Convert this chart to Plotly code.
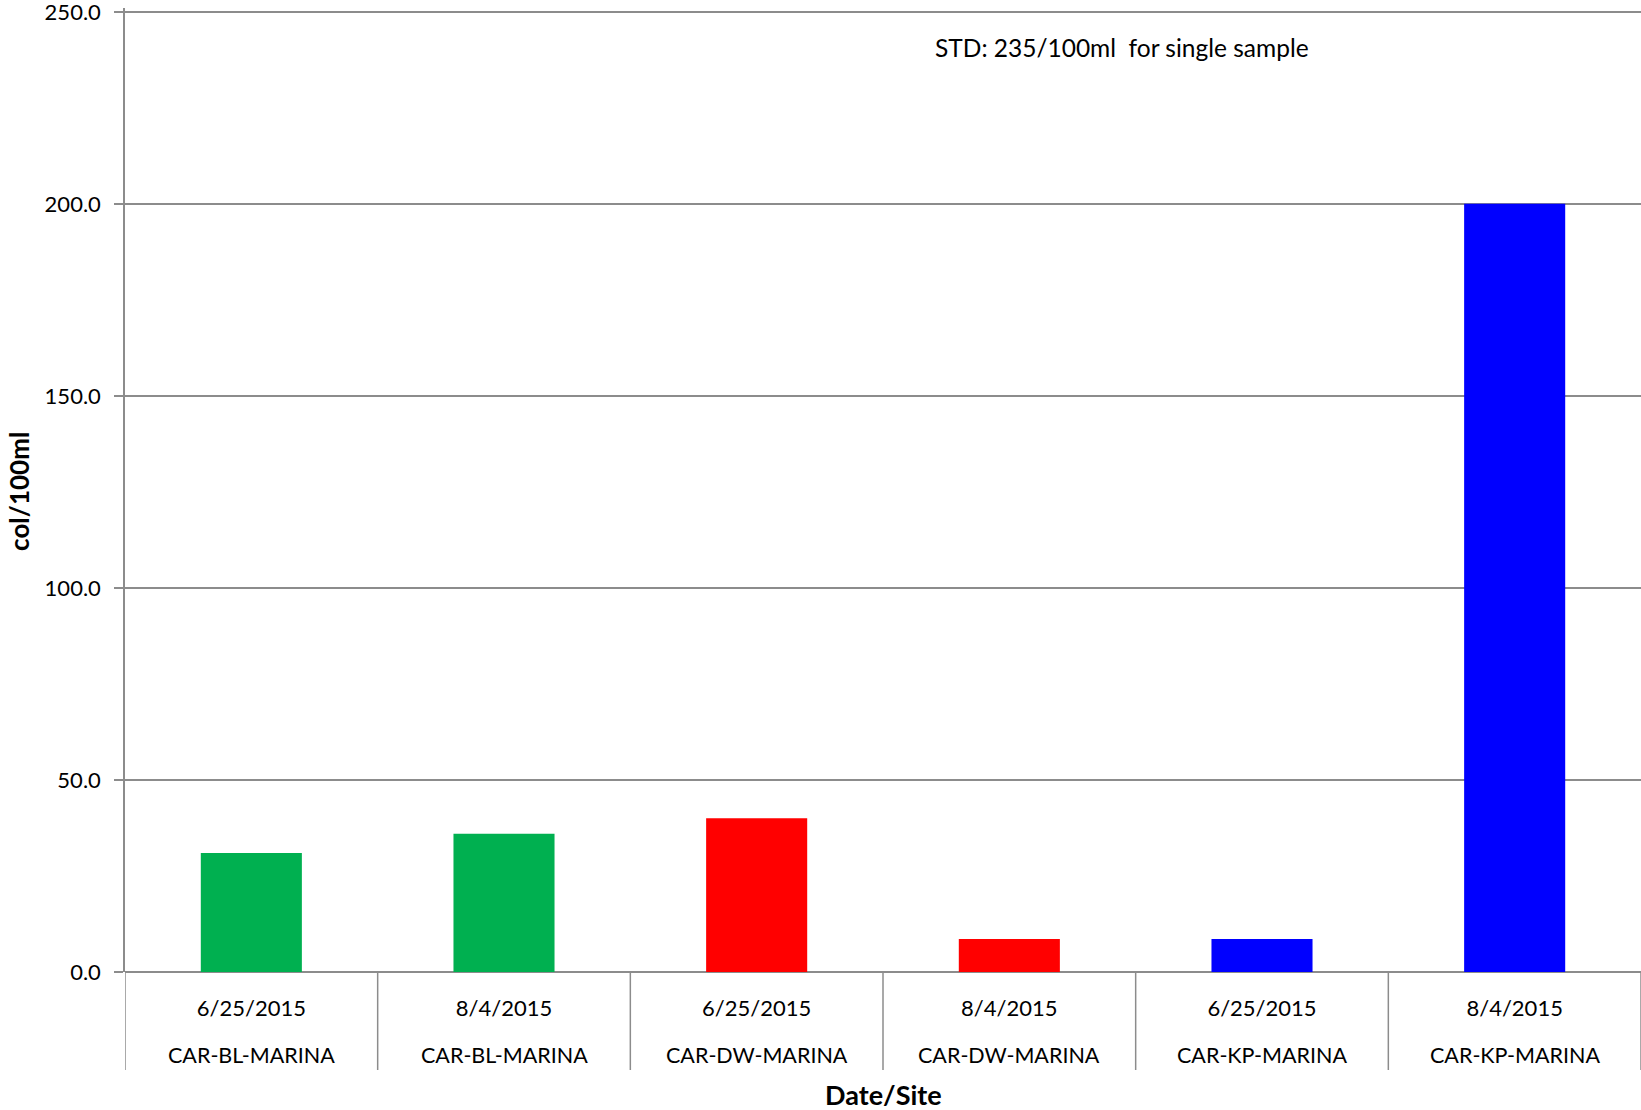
import plotly.graph_objects as go

dates = ["6/25/2015", "8/4/2015", "6/25/2015", "8/4/2015", "6/25/2015", "8/4/2015"]
sites = ["CAR-BL-MARINA", "CAR-BL-MARINA", "CAR-DW-MARINA", "CAR-DW-MARINA", "CAR-KP-MARINA", "CAR-KP-MARINA"]
values = [31.0, 36.0, 40.0, 8.6, 8.6, 200.0]
colors = ["#00B050", "#00B050", "#FF0000", "#FF0000", "#0000FF", "#0000FF"]
y_ticks = [0, 50, 100, 150, 200, 250]
note = "STD: 235/100ml  for single sample"

FONT = "Lato, 'Open Sans', sans-serif"
W, H = 1641, 1110
Y_MAX = 251
# plot area in page pixels (250 gridline sits at page y=12)
PL, PR, PB = 125, 1641, 972
PT = PB - (PB - 12) * Y_MAX / 250
L, T = PL, PT
R = W - PR
B = H - PB
plot_h = PB - PT
plot_w = PR - PL


def px(xp):
    return (xp - PL) / plot_w


def py(yp):
    return (PB - yp) / plot_h


idx = list(range(len(values)))

fig = go.Figure()
fig.add_trace(go.Bar(x=idx, y=values, marker=dict(color=colors, line=dict(width=0)),
                     width=0.4, showlegend=False))

# dividers between categories below axis
for k in range(len(values) + 1):
    fig.add_shape(type="line", xref="x", yref="paper", x0=k - 0.5, x1=k - 0.5,
                  y0=0, y1=py(1070), line=dict(color="#8c8c8c", width=1.5))

# site row
for i, s in enumerate(sites):
    fig.add_annotation(x=i, y=py(1055), xref="x", yref="paper", text=s, showarrow=False,
                       font=dict(family=FONT, size=21.5, color="#000"), xanchor="center", yanchor="middle")

fig.add_annotation(x=px(19), y=py(492), xref="paper", yref="paper", text="<b>col/100ml</b>",
                   textangle=-90, showarrow=False, font=dict(family=FONT, size=26, color="#000"),
                   xanchor="center", yanchor="middle")
fig.add_annotation(x=px(883), y=py(1094), xref="paper", yref="paper",
                   text="<b>Date/Site</b>", showarrow=False, font=dict(family=FONT, size=27, color="#000"),
                   xanchor="center", yanchor="middle")
fig.add_annotation(x=px(1122), y=py(48), xref="paper", yref="paper",
                   text=note, showarrow=False, font=dict(family=FONT, size=24.5, color="#000"),
                   xanchor="center", yanchor="middle")

fig.update_layout(
    width=W, height=H, margin=dict(l=L, r=R, t=T, b=B, pad=0, autoexpand=False),
    plot_bgcolor="white", paper_bgcolor="white", bargap=0.6,
    font=dict(family=FONT, size=20, color="#000"),
    xaxis=dict(range=[-0.5, len(values) - 0.5], tickmode="array", tickvals=idx, ticktext=dates,
               showgrid=False, zeroline=False, showline=False, ticks="", ticklabelstandoff=21,
               automargin=False, tickfont=dict(family=FONT, size=22, color="#000")),
    yaxis=dict(range=[0, Y_MAX], tickmode="array", tickvals=y_ticks,
               ticktext=[f"{v:.1f}" for v in y_ticks], automargin=False,
               showgrid=True, gridcolor="#8c8c8c", gridwidth=1.5,
               zeroline=True, zerolinecolor="#8c8c8c", zerolinewidth=1.5,
               showline=True, linecolor="#8c8c8c", linewidth=1.5,
               ticks="outside", ticklen=9, tickcolor="#8c8c8c", tickwidth=1.5,
               ticklabeloverflow="allow",
               tickfont=dict(family=FONT, size=22, color="#000"), ticklabelstandoff=9),
)

fig.write_html("out.html", config={"displayModeBar": False},
               post_script="document.body.style.margin='0';document.body.style.overflow='hidden';")
